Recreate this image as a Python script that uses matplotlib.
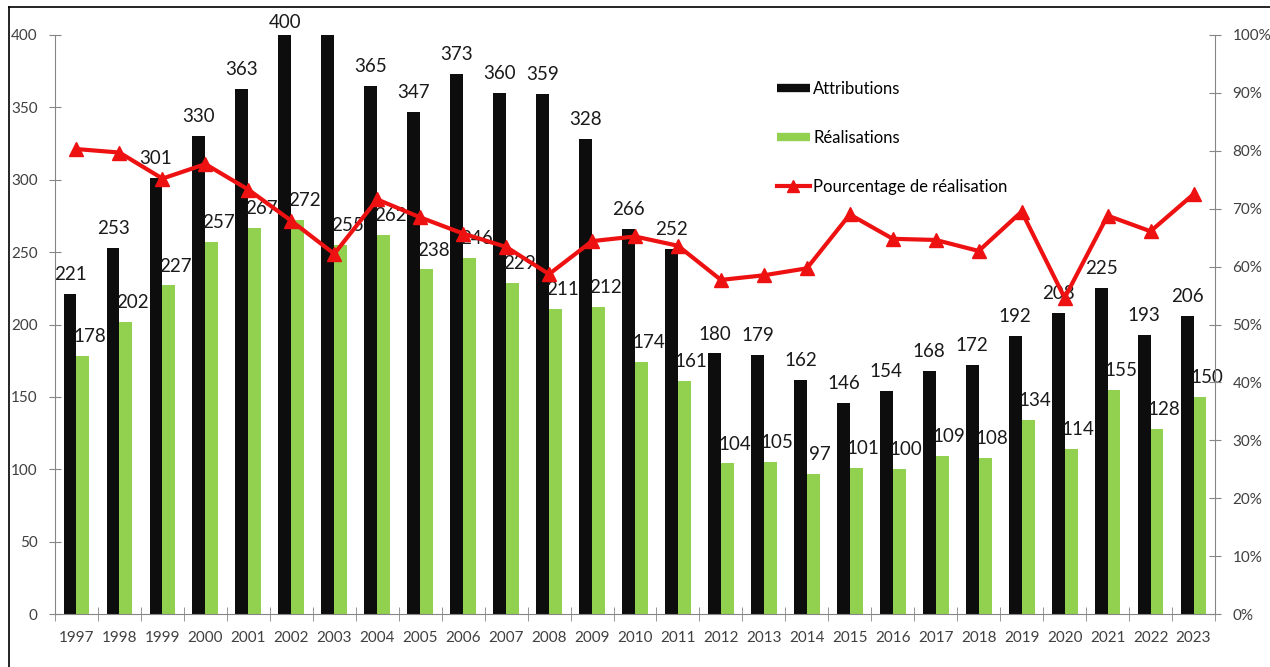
import matplotlib
matplotlib.use('Agg')
import matplotlib.pyplot as plt
from matplotlib.lines import Line2D
import numpy as np

plt.rcParams['font.family'] = ['Lato', 'DejaVu Sans']

years = [str(y) for y in range(1997, 2024)]
attributions = [221, 253, 301, 330, 363, 400, 411, 365, 347, 373, 360, 359, 328,
                266, 252, 180, 179, 162, 146, 154, 168, 172, 192, 208, 225, 193, 206]
realisations = [178, 202, 227, 257, 267, 272, 255, 262, 238, 246, 229, 211, 212,
                174, 161, 104, 105, 97, 101, 100, 109, 108, 134, 114, 155, 128, 150]
pourcentage = [80.3, 79.7, 75.2, 77.7, 73.3, 67.9, 62.2, 71.6, 68.5, 65.7, 63.4, 58.7, 64.4,
               65.2, 63.6, 57.7, 58.5, 59.7, 69.0, 64.8, 64.6, 62.7, 69.5, 54.6, 68.8, 66.1, 72.5]

black = '#0d0d0d'
green = '#92d050'
red = '#ee1111'
grey = '#868686'

fig = plt.figure(figsize=(12.7, 6.67), dpi=100)
ax = fig.add_axes([55/1270, 53/667, 1160/1270, 579/667])
ax2 = ax.twinx()

x = np.arange(len(years))
w = 0.3
ax.bar(x - w/2, attributions, w, color=black, zorder=2)
ax.bar(x + w/2, realisations, w, color=green, zorder=2)
ax.set_xlim(-0.5, len(years) - 0.5)
ax.set_ylim(0, 400)
ax.set_yticks(range(0, 401, 50))

# data labels (values above the axis top are hidden, as in the original)
for i in range(len(years)):
    if attributions[i] <= 400:
        dy = 5 if attributions[i] >= 400 else 10
        ax.annotate(str(attributions[i]), (x[i] - w/2, attributions[i]), xytext=(0, dy),
                    textcoords='offset points', ha='center', va='baseline',
                    fontsize=13.5, color='#1a1a1a', annotation_clip=False, zorder=5)
    ax.annotate(str(realisations[i]), (x[i] + w/2, realisations[i]), xytext=(5, 10),
                textcoords='offset points', ha='center', va='baseline',
                fontsize=13.5, color='#1a1a1a', zorder=5)

ax2.plot(x, pourcentage, color=red, lw=3, marker='^', markersize=10, zorder=4)
ax2.set_ylim(0, 100)
ax2.set_yticks(range(0, 101, 10))
ax2.set_yticklabels([f'{v}%' for v in range(0, 101, 10)])

# axes styling
for a in (ax, ax2):
    for s in a.spines.values():
        s.set_visible(False)
ax.spines['left'].set_visible(True)
ax.spines['left'].set_color(grey)
ax.spines['bottom'].set_visible(True)
ax.spines['bottom'].set_color(grey)
ax2.spines['right'].set_visible(True)
ax2.spines['right'].set_color(grey)

ax.tick_params(axis='y', direction='inout', length=9, color=grey, labelsize=11,
               labelcolor='#404040', pad=8)
ax2.tick_params(axis='y', direction='inout', length=9, color=grey, labelsize=11,
                labelcolor='#404040', pad=8)
ax.set_xticks(x)
ax.set_xticklabels(years)
ax.set_xticks(np.arange(len(years) + 1) - 0.5, minor=True)
ax.tick_params(axis='x', which='major', length=0, labelsize=11, labelcolor='#404040', pad=12)
ax.tick_params(axis='x', which='minor', direction='inout', length=10, color=grey)
ax2.patch.set_visible(False)

# legend
handles = [Line2D([], [], color=black, lw=6, solid_capstyle='butt'),
           Line2D([], [], color=green, lw=6, solid_capstyle='butt'),
           Line2D([], [], color=red, lw=3, marker='^', markersize=9)]
labels = ['Attributions', 'Réalisations', 'Pourcentage de réalisation']
ax2.legend(handles, labels, loc='upper left', bbox_to_anchor=(715/1160, (632 - 92)/579),
           frameon=False, fontsize=12, handlelength=2.0, handletextpad=0.2,
           labelspacing=2.0, borderaxespad=0)

# outer frame lines
fig.add_artist(Line2D([9/1270, 1], [1 - 7/667, 1 - 7/667], color='black', lw=1.2))
fig.add_artist(Line2D([9/1270, 9/1270], [0, 1 - 7/667], color='black', lw=1.2))

fig.savefig('out.png', dpi=100)
